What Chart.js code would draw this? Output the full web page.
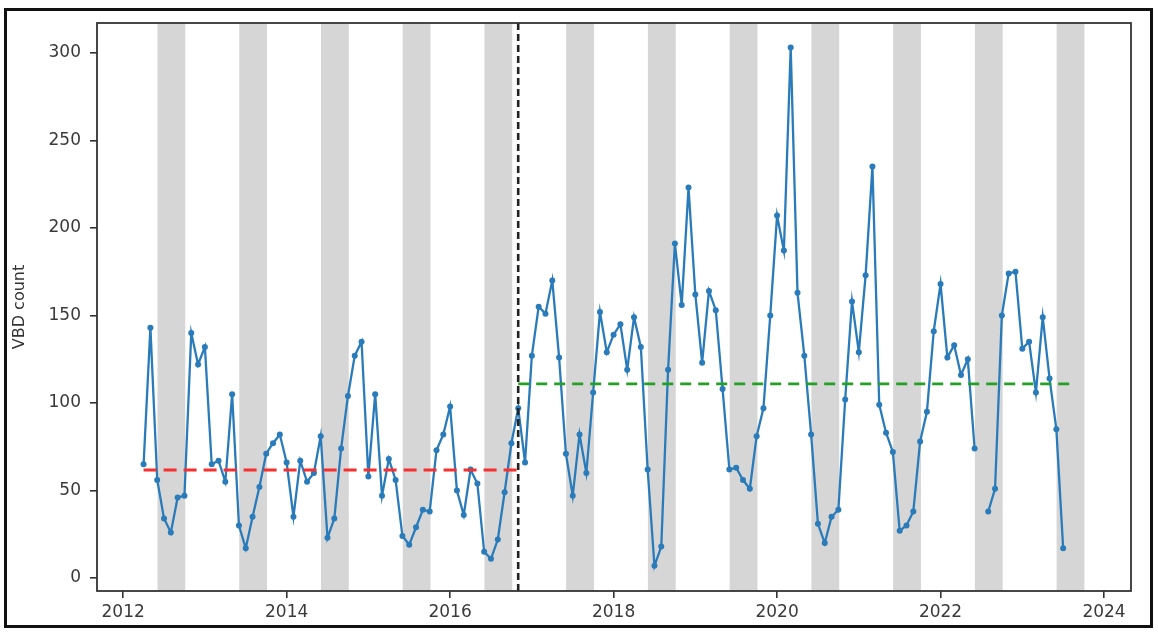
<!DOCTYPE html>
<html>
<head>
<meta charset="utf-8">
<script src="https://cdn.jsdelivr.net/npm/chart.js@4.4.0/dist/chart.umd.min.js"></script>
<style>
body { margin: 0; background: #fff; }
#wrap { position: relative; width: 1158px; height: 632px; }
#frame { position: absolute; left: 4px; top: 8px; width: 1143px; height: 614px; border: 3px solid #111; pointer-events: none; }
</style>
</head>
<body>
<div id="wrap">
  <canvas id="chart" width="1158" height="632"></canvas>
  <div id="frame"></div>
</div>
<script>
// monthly VBD counts, first value = April 2012, last = July 2023 (July 2022 missing)
var startYear = 2012;
var startMonth = 4;
var vbdCount = [
    65, 143, 56, 34, 26, 46, 47, 140, 122,                 // 2012 Apr-Dec
    132, 65, 67, 55, 105, 30, 17, 35, 52, 71, 77, 82,      // 2013
    66, 35, 67, 55, 60, 81, 23, 34, 74, 104, 127, 135,     // 2014
    58, 105, 47, 68, 56, 24, 19, 29, 39, 38, 73, 82,       // 2015
    98, 50, 36, 62, 54, 15, 11, 22, 49, 77, 97, 66,        // 2016
    127, 155, 151, 170, 126, 71, 47, 82, 60, 106, 152, 129, // 2017
    139, 145, 119, 149, 132, 62, 7, 18, 119, 191, 156, 223, // 2018
    162, 123, 164, 153, 108, 62, 63, 56, 51, 81, 97, 150,  // 2019
    207, 187, 303, 163, 127, 82, 31, 20, 35, 39, 102, 158, // 2020
    129, 173, 235, 99, 83, 72, 27, 30, 38, 78, 95, 141,    // 2021
    168, 126, 133, 116, 125, 74, null, 38, 51, 150, 174, 175, // 2022
    131, 135, 106, 149, 114, 85, 17                        // 2023 Jan-Jul
];

// mean levels before / after the break
var breakYear = 2016.833;
var preMean = 61.7;
var postMean = 110.9;
var preStart = 2012.25;
var postEnd = 2023.6;

// shaded season in each year (fraction of year)
var bandYears = [2012, 2013, 2014, 2015, 2016, 2017, 2018, 2019, 2020, 2021, 2022, 2023];
var bandFrom = 0.42;
var bandTo = 0.76;

var xTicks = [2012, 2014, 2016, 2018, 2020, 2022, 2024];
var yTicks = [0, 50, 100, 150, 200, 250, 300];
var xMin = 2011.68, xMax = 2024.33;
var yMin = -7.4, yMax = 317;

var points = vbdCount.map(function (v, i) {
    return { x: startYear + (startMonth - 1 + i) / 12, y: v };
});

var seasonBands = {
    id: 'seasonBands',
    beforeDatasetsDraw: function (chart) {
        var ctx = chart.ctx, area = chart.chartArea, x = chart.scales.x;
        ctx.save();
        ctx.fillStyle = '#d6d6d6';
        bandYears.forEach(function (yr) {
            var x0 = x.getPixelForValue(yr + bandFrom);
            var x1 = x.getPixelForValue(yr + bandTo);
            ctx.fillRect(x0, area.top, x1 - x0, area.bottom - area.top);
        });
        ctx.restore();
    },
    afterDraw: function (chart) {
        var ctx = chart.ctx, area = chart.chartArea;
        ctx.save();
        ctx.strokeStyle = '#333';
        ctx.lineWidth = 1.8;
        ctx.strokeRect(area.left, area.top, area.right - area.left, area.bottom - area.top);
        ctx.restore();
    }
};

var tickFont = { family: "'DejaVu Sans', sans-serif", size: 17 };
var titleFont = { family: "'DejaVu Sans', sans-serif", size: 16 };

new Chart(document.getElementById('chart'), {
    type: 'line',
    data: {
        datasets: [
            {
                data: [{ x: breakYear, y: yMin }, { x: breakYear, y: yMax }],
                borderColor: '#222',
                borderWidth: 2.6,
                borderDash: [7, 4],
                pointRadius: 0,
                order: 0
            },
            {
                data: [{ x: preStart, y: preMean }, { x: breakYear, y: preMean }],
                borderColor: '#f5302e',
                borderWidth: 3.2,
                borderDash: [13, 7],
                pointRadius: 0,
                order: 1
            },
            {
                data: [{ x: breakYear, y: postMean }, { x: postEnd, y: postMean }],
                borderColor: '#24a024',
                borderWidth: 2.8,
                borderDash: [11, 7],
                pointRadius: 0,
                order: 1
            },
            {
                data: points,
                borderColor: '#2a7bb9',
                backgroundColor: '#2a7bb9',
                borderWidth: 2.3,
                pointRadius: 3,
                pointBorderWidth: 0,
                spanGaps: false,
                order: 2
            }
        ]
    },
    options: {
        responsive: false,
        animation: false,
        layout: { padding: { left: 0, top: 23, right: 27, bottom: 0 } },
        plugins: { legend: { display: false }, tooltip: { enabled: false } },
        scales: {
            x: {
                type: 'linear',
                min: xMin,
                max: xMax,
                border: { display: false },
                grid: { drawOnChartArea: false, tickLength: 7, color: '#333', lineWidth: 1.6 },
                afterBuildTicks: function (s) { s.ticks = xTicks.map(function (v) { return { value: v }; }); },
                afterFit: function (s) { s.height = 41; },
                ticks: {
                    font: tickFont, color: '#3a3a3a', padding: 4, maxRotation: 0,
                    callback: function (v) { return String(v); }
                }
            },
            y: {
                min: yMin,
                max: yMax,
                border: { display: false },
                grid: { drawOnChartArea: false, tickLength: 7, color: '#333', lineWidth: 1.6 },
                afterBuildTicks: function (s) { s.ticks = yTicks.map(function (v) { return { value: v }; }); },
                afterFit: function (s) { s.width = 97; },
                ticks: { font: tickFont, color: '#3a3a3a', padding: 9 },
                title: { display: true, text: 'VBD count', font: titleFont, color: '#333', padding: { top: 10, bottom: 0 } }
            }
        }
    },
    plugins: [seasonBands]
});
</script>
</body>
</html>
